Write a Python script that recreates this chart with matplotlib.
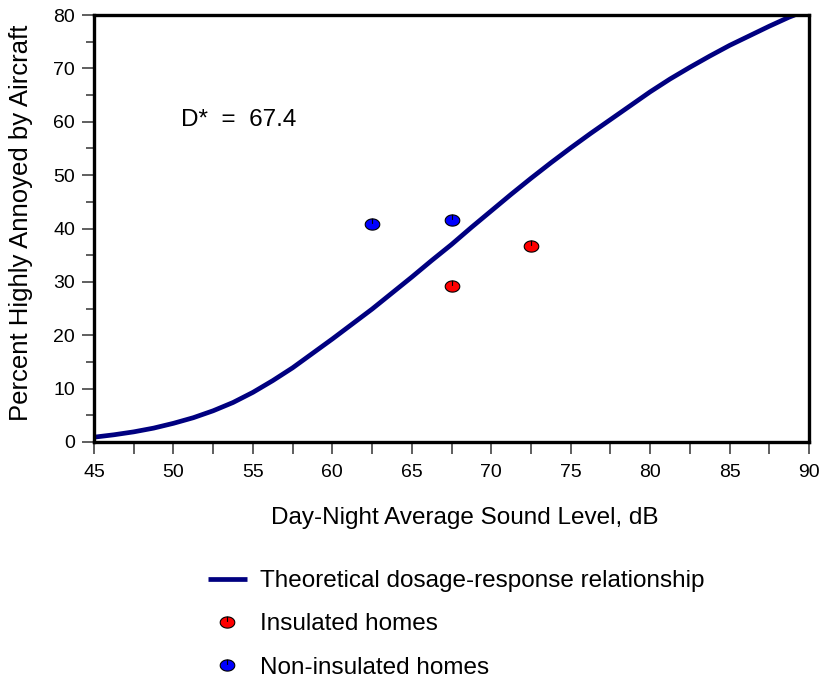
import matplotlib
matplotlib.use("Agg")
import matplotlib.pyplot as plt
from matplotlib.path import Path
from matplotlib.ticker import MultipleLocator
import numpy as np

plt.rcParams['font.family'] = ['Liberation Sans', 'DejaVu Sans']

# Theoretical dosage-response curve
curve_ldn = [45, 46.25, 47.5, 48.75, 50, 51.25, 52.5, 53.75, 55, 56.25, 57.5, 58.75,
             60, 61.25, 62.5, 63.75, 65, 66.25, 67.5, 68.75, 70, 71.25, 72.5, 73.75,
             75, 76.25, 77.5, 78.75, 80, 81.25, 82.5, 83.75, 85, 86.25, 87.5, 88.75, 89.1]
curve_pct = [0.9, 1.35, 1.9, 2.6, 3.5, 4.55, 5.85, 7.4, 9.3, 11.5, 13.9, 16.6,
             19.3, 22.1, 24.9, 27.9, 30.9, 34.0, 37.0, 40.2, 43.3, 46.4, 49.4, 52.3,
             55.1, 57.8, 60.4, 63.0, 65.6, 68.0, 70.2, 72.3, 74.3, 76.1, 77.9, 79.6, 80.0]

insulated_ldn = [67.5, 72.5]
insulated_pct = [29.2, 36.7]

noninsulated_ldn = [62.5, 67.5]
noninsulated_pct = [40.9, 41.5]

dstar_label = "D*  =  67.4"

# custom marker: ellipse with short vertical tick from top to centre
t = np.linspace(0, 2 * np.pi, 49)
ell = np.column_stack([0.65 * np.cos(t), 0.5 * np.sin(t)])
verts = list(map(tuple, ell)) + [(0, 0.5), (0, 0.05)]
codes = [Path.MOVETO] + [Path.LINETO] * (len(ell) - 2) + [Path.CLOSEPOLY] + [Path.MOVETO, Path.LINETO]
ell_marker = Path(verts, codes)

fig = plt.figure(figsize=(8.2, 6.81), dpi=100)
ax = fig.add_axes([94 / 820, 1 - 442 / 681, (809 - 94) / 820, (442 - 15) / 681])

ax.plot(curve_ldn, curve_pct, color='#000080', lw=3.4, solid_capstyle='butt',
        solid_joinstyle='round',
        label='Theoretical dosage-response relationship', zorder=2)
ax.plot(insulated_ldn, insulated_pct, ls='none', marker=ell_marker, ms=10.5,
        mfc='#ff0000', mec='black', mew=0.8, label='Insulated homes', zorder=3)
ax.plot(noninsulated_ldn, noninsulated_pct, ls='none', marker=ell_marker, ms=10.5,
        mfc='#0000ff', mec='black', mew=0.8, label='Non-insulated homes', zorder=3)

ax.text(50.5, 60.3, dstar_label, fontsize=17.5, va='center', ha='left')

ax.set_xlim(45, 90)
ax.set_ylim(0, 80)
ax.xaxis.set_major_locator(MultipleLocator(5))
ax.xaxis.set_minor_locator(MultipleLocator(2.5))
ax.yaxis.set_major_locator(MultipleLocator(10))
ax.yaxis.set_minor_locator(MultipleLocator(5))

for s in ax.spines.values():
    s.set_linewidth(2.4)
    s.set_color('black')

ax.tick_params(axis='x', which='both', direction='out', length=8.5, width=1.1,
               color='#333333', labelsize=14, pad=7.5)
ax.tick_params(axis='y', which='major', direction='out', length=8.5, width=1.1,
               color='#333333', labelsize=14, pad=5)
ax.tick_params(axis='y', which='minor', direction='out', length=6, width=1.1, color='#333333')

ax.set_xlabel('Day-Night Average Sound Level, dB', fontsize=17.5)
ax.xaxis.set_label_coords(0.518, -0.152)
ax.set_ylabel('Percent Highly Annoyed by Aircraft', fontsize=18.5)
ax.yaxis.set_label_coords(-0.085, 0.514)

leg = fig.legend(loc='upper left', bbox_to_anchor=(208 / 820, 1 - 570 / 681),
                 frameon=False, fontsize=17.5, handlelength=1.6, handletextpad=0.55,
                 labelspacing=0.88, borderpad=0, borderaxespad=0)

fig.savefig('out.png', dpi=100)
